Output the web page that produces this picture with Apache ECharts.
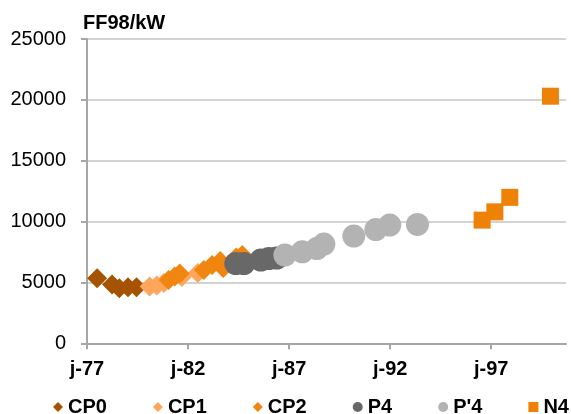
<!DOCTYPE html>
<html>
<head>
<meta charset="utf-8">
<script src="https://cdn.jsdelivr.net/npm/echarts@6/dist/echarts.min.js"></script>
<style>
html,body{margin:0;padding:0;background:#fff;}
#chart{width:571px;height:414px;}
</style>
</head>
<body>
<div id="chart"></div>
<script>
// ---- data ----
const seriesNames = ['CP0', 'CP1', 'CP2', 'P4', "P'4", 'N4'];
const cp0Years  = [1977.50, 1978.24, 1978.60, 1979.03, 1979.45];
const cp0Values = [5340, 4840, 4520, 4600, 4600];
const cp1Years  = [1980.10, 1980.45, 1980.80, 1981.69, 1982.48];
const cp1Values = [4660, 4750, 4950, 5440, 5770];
const cp2Years  = [1981.04, 1981.34, 1981.59, 1982.78, 1983.19, 1983.59, 1983.74, 1984.38, 1984.68, 1986.69];
const cp2Values = [5200, 5480, 5730, 6020, 6430, 6760, 6180, 7040, 7250, 7330];
const p4Years   = [1984.36, 1984.76, 1985.60, 1986.00, 1986.39];
const p4Values  = [6550, 6550, 6840, 6960, 7000];
const pp4Years  = [1986.79, 1987.65, 1988.37, 1988.72, 1990.20, 1991.29, 1991.98, 1993.35];
const pp4Values = [7250, 7520, 7780, 8150, 8810, 9340, 9710, 9770];
const n4Years   = [1996.55, 1997.18, 1997.92, 1999.93];
const n4Values  = [10120, 10800, 11990, 20300];
const xTickYears = [1977, 1982, 1987, 1992, 1997];
const titleText = 'FF98/kW';

const colors = ['#A65300', '#FFA65C', '#F08510', '#686868', '#B3B3B3', '#EE8207'];
const symbols = ['diamond', 'diamond', 'diamond', 'circle', 'circle', 'rect'];
const sizes = [20, 20, 20, 23, 23, 17];
const legendIcons = ['diamond', 'diamond', 'diamond', 'circle', 'circle', 'rect'];

const xs = [cp0Years, cp1Years, cp2Years, p4Years, pp4Years, n4Years];
const ys = [cp0Values, cp1Values, cp2Values, p4Values, pp4Values, n4Values];

const FONT = "'Liberation Sans', Arial, sans-serif";

const series = seriesNames.map((name, i) => ({
  name: name,
  type: 'scatter',
  symbol: symbols[i],
  symbolSize: sizes[i],
  itemStyle: { color: colors[i], opacity: 1 },
  data: xs[i].map((x, k) => [x, ys[i][k]]),
  z: 2 + i
}));

const chart = echarts.init(document.getElementById('chart'), null, { renderer: 'canvas' });
chart.setOption({
  animation: false,
  backgroundColor: '#ffffff',
  title: {
    text: titleText,
    left: 78,
    top: 8,
    textStyle: { fontFamily: FONT, fontSize: 20, fontWeight: 'bold', color: '#000' }
  },
  legend: {
    data: seriesNames.map((n, i) => ({ name: n, icon: legendIcons[i] })),
    left: 48,
    top: 392,
    width: 560,
    itemWidth: 10,
    itemHeight: 10,
    itemGap: 46,
    textStyle: { fontFamily: FONT, fontSize: 20, fontWeight: 'bold', color: '#000' }
  },
  grid: { left: 87, right: 5, top: 39, bottom: 70.7, containLabel: false },
  xAxis: {
    type: 'value',
    min: 1977,
    max: 2000.7,
    splitLine: { show: false },
    axisLine: { show: true, lineStyle: { color: '#A6A6A6', width: 2 } },
    axisTick: { show: true, length: 6, customValues: xTickYears, lineStyle: { color: '#A6A6A6', width: 2 } },
    axisLabel: {
      customValues: xTickYears,
      margin: 16,
      fontFamily: FONT, fontSize: 20, fontWeight: 'bold', color: '#000',
      formatter: v => 'j-' + String(Math.round(v)).slice(2)
    }
  },
  yAxis: {
    type: 'value',
    min: 0,
    max: 25000,
    interval: 5000,
    axisLine: { show: true, lineStyle: { color: '#A6A6A6', width: 2 } },
    axisTick: { show: true, length: 6, lineStyle: { color: '#A6A6A6', width: 2 } },
    splitLine: { show: true, lineStyle: { color: '#C4C4C4', width: 1.5 } },
    axisLabel: { margin: 21, fontFamily: FONT, fontSize: 20, color: '#000', formatter: v => String(v) }
  },
  series: series
});
</script>
</body>
</html>
